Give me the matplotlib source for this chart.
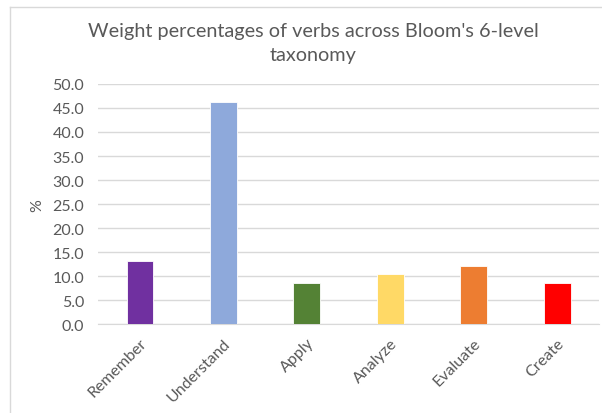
import matplotlib.pyplot as plt
from matplotlib.lines import Line2D

categories = ["Remember", "Understand", "Apply", "Analyze", "Evaluate", "Create"]
percentages = [13.2, 46.3, 8.7, 10.5, 12.2, 8.7]
bar_colors = ["#7030A0", "#8EA9DB", "#548235", "#FFD966", "#ED7D31", "#FF0000"]
y_ticks = [0, 5, 10, 15, 20, 25, 30, 35, 40, 45, 50]

plt.rcParams["font.family"] = ["Lato", "DejaVu Sans"]
text_color = "#595959"

fig = plt.figure(figsize=(6.02, 4.14), dpi=100)
ax = fig.add_axes([0.163, 0.214, 0.832, 0.581])

x = range(len(categories))
ax.bar(x, percentages, width=0.32, color=bar_colors,
       edgecolor="white", linewidth=0.6, zorder=3)

ax.set_xlim(-0.5, len(categories) - 0.5)
ax.set_ylim(0, 50)
ax.set_yticks(y_ticks)
ax.set_yticklabels(["{:.1f}".format(v) for v in y_ticks])
ax.set_xticks(list(x))
ax.set_xticklabels(categories, rotation=45, ha="right", rotation_mode="anchor")
ax.yaxis.grid(True, color="#d9d9d9", linewidth=1, zorder=0)
ax.tick_params(axis="both", length=0, labelsize=11.5, colors=text_color, pad=10)
ax.tick_params(axis="x", pad=8)
for side in ["top", "right", "left"]:
    ax.spines[side].set_visible(False)
ax.spines["bottom"].set_color("#d9d9d9")
ax.set_ylabel("%", fontsize=11.5, color=text_color, labelpad=6)

fig.text(0.52, 0.895, "Weight percentages of verbs across Bloom's 6-level\ntaxonomy",
         ha="center", va="center", fontsize=14.3, color=text_color, linespacing=1.5)

# chart frame
fig.add_artist(Line2D([10 / 602, 10 / 602], [0, 1 - 8 / 414], color="#d9d9d9", lw=1))
fig.add_artist(Line2D([10 / 602, 1], [1 - 8 / 414, 1 - 8 / 414], color="#d9d9d9", lw=1))

fig.savefig("out.png", dpi=100)
